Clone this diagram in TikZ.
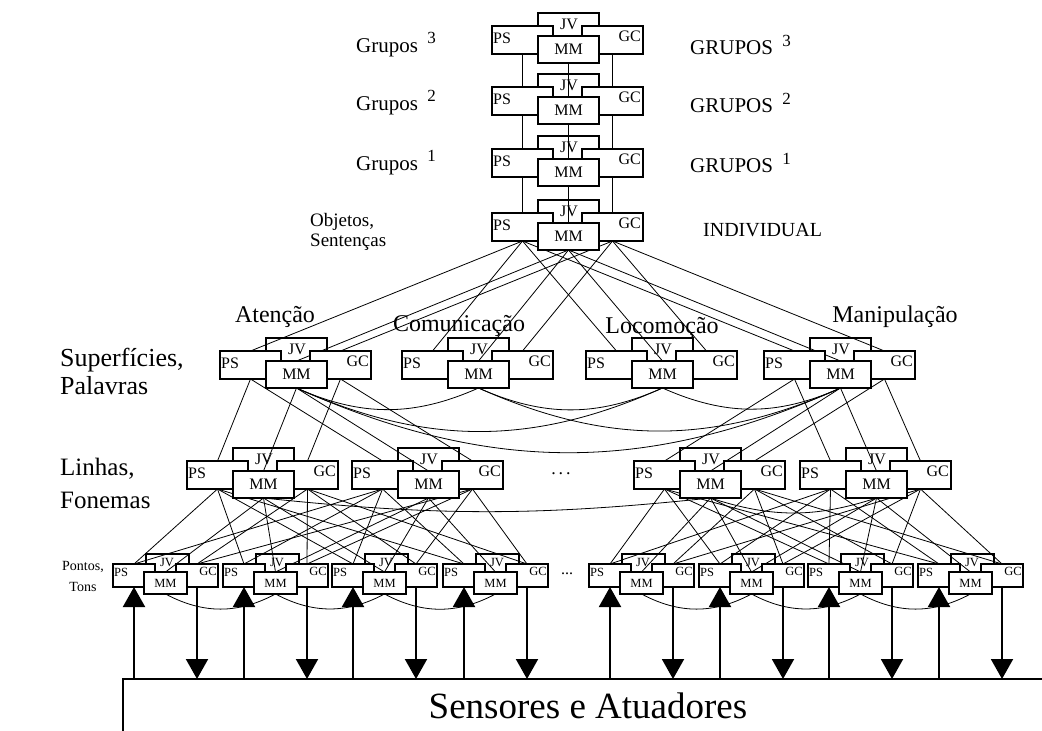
\documentclass[tikz,border=0pt]{standalone}
\usepackage{fontspec}
\setmainfont{Liberation Serif}
\usetikzlibrary{arrows.meta}
\pgfdeclarelayer{jvl}
\pgfdeclarelayer{wires}
\pgfsetlayers{jvl,wires,main}

\tikzset{
  box/.style={draw, fill=white, inner sep=0pt, outer sep=0pt, anchor=north west},
  bigbox/.style={box, line width=2pt},
  smallbox/.style={box, line width=1.6pt},
  bigt/.style={font=\fontsize{16}{16}\selectfont, inner sep=0pt},
  smallt/.style={font=\fontsize{12.5}{12.5}\selectfont, inner sep=0pt},
  wire/.style={line width=0.8pt},
  arr/.style={line width=2pt, -{Triangle[width=22pt,length=20pt]}},
  lab/.style={inner sep=0pt, align=left},
  grp/.style={lab, anchor=west, font=\fontsize{21}{21}\selectfont},
  task/.style={lab, font=\fontsize{24}{24}\selectfont},
}

% superscript level index
\newcommand\lvl[1]{\hspace{4pt}\raisebox{.42em}{\fontsize{17}{17}\selectfont #1}}

% large module: name, centre x, top y
\newcommand\bigmod[3]{%
  \begin{pgfonlayer}{jvl}
    \node[bigbox, minimum width=61, minimum height=26] (#1-jv) at (#2-30,#3) {};
    \node[bigt] (#1-jvt) at (#2+1,#3+11) {JV};
  \end{pgfonlayer}
  \node[bigbox, minimum width=61, minimum height=28] (#1-ps) at (#2-76,#3+13) {};
  \node[bigbox, minimum width=61, minimum height=28] (#1-gc) at (#2+14,#3+13) {};
  \node[bigbox, minimum width=61, minimum height=27] (#1-mm) at (#2-30,#3+23) {};
  \node[bigt, anchor=west] (#1-pst) at (#2-75,#3+25) {PS};
  \node[bigt, anchor=east] (#1-gct) at (#2+73,#3+23) {GC};
  \node[bigt] (#1-mmt) at (#2+0.5,#3+36) {MM};
}

% small module: name, centre x, top y
\newcommand\smallmod[3]{%
  \begin{pgfonlayer}{jvl}
    \node[smallbox, minimum width=43, minimum height=20] (#1-jv) at (#2-20,#3) {};
    \node[smallt] (#1-jvt) at (#2+1,#3+8.5) {JV};
  \end{pgfonlayer}
  \node[smallbox, minimum width=42, minimum height=23] (#1-ps) at (#2-53,#3+10) {};
  \node[smallbox, minimum width=42, minimum height=23] (#1-gc) at (#2+10,#3+10) {};
  \node[smallbox, minimum width=43, minimum height=22] (#1-mm) at (#2-22,#3+18) {};
  \node[smallt, anchor=west] (#1-pst) at (#2-52,#3+18) {PS};
  \node[smallt, anchor=east] (#1-gct) at (#2+51,#3+17) {GC};
  \node[smallt] (#1-mmt) at (#2-0.5,#3+29) {MM};
}

\begin{document}
\begin{tikzpicture}[x=1pt,y=-1pt]
\useasboundingbox (0,0) rectangle (1042,731);

% group stack
\bigmod{g3}{568}{13}
\bigmod{g2}{568}{74}
\bigmod{g1}{568}{136}
\bigmod{ob}{568}{200}

% behaviours
\bigmod{at}{296}{338}
\bigmod{co}{478}{338}
\bigmod{lo}{662}{338}
\bigmod{ma}{840}{338}

% lines / phonemes
\bigmod{la}{263}{448}
\bigmod{lb}{428}{448}
\bigmod{lc}{710}{448}
\bigmod{ld}{876}{448}

% points / tones
\smallmod{pa}{166}{554}
\smallmod{pb}{276}{554}
\smallmod{pc}{385}{554}
\smallmod{pd}{496}{554}
\smallmod{pe}{642}{554}
\smallmod{pf}{752}{554}
\smallmod{pg}{861}{554}
\smallmod{ph}{971}{554}

\begin{pgfonlayer}{wires}
  \foreach \a/\b in {g3/g2,g2/g1,g1/ob}
    \foreach \p in {ps,mm,gc}
      \draw[wire] (\a-\p.south) -- (\b-\p.north);
  \foreach \m in {at,co,lo,ma}
    \foreach \p in {ps,mm,gc}
      \draw[wire] (ob-\p.south) -- (\m-\p.north);
  \foreach \a/\b in {at/la,at/lb,ma/lc,ma/ld}
    \foreach \p in {ps,mm,gc}
      \draw[wire] (\a-\p.south) -- (\b-\p.north);
  \foreach \a/\b in {at/co,at/lo,at/ma,co/lo,co/ma,lo/ma}
    \draw[wire] (\a-mm.south) to[out=-24,in=204] (\b-mm.south);
  % phoneme level to point level
  \foreach \a in {la,lb}
    \foreach \b in {pa,pb,pc,pd}
      \foreach \p in {ps,gc}
        \draw[wire] (\a-\p.south) -- (\b-\p.north);
  \foreach \a in {lc,ld}
    \foreach \b in {pe,pf,pg,ph}
      \foreach \p in {ps,gc}
        \draw[wire] (\a-\p.south) -- (\b-\p.north);
  \foreach \a/\b in {la/pa,la/pb,la/pc,lb/pb,lb/pc,lb/pd,
                     lc/pe,lc/pf,lc/pg,ld/pf,ld/pg,ld/ph}
    \draw[wire] (\a-mm.south) -- (\b-mm.north);
  \draw[wire] (la-mm.south) to[out=-6,in=186] (lc-mm.south);
  \draw[wire] (lc-mm.south) to[out=-18,in=198] (ld-mm.south);
  \foreach \a/\b in {pa/pb,pb/pc,pc/pd,pe/pf,pf/pg,pg/ph}
    \draw[wire] (\a-mm.south) to[out=-28,in=208] (\b-mm.south);
\end{pgfonlayer}

% sensors and actuators
\coordinate (floor) at (0,679);
\draw[line width=2pt] (1042,679) -- (123,679) -- (123,731);
\node[font=\fontsize{37}{37}\selectfont, inner sep=0pt] (sens) at (588,706) {Sensores e Atuadores};
\foreach \m in {pa,pb,pc,pd,pe,pf,pg,ph} {
  \draw[arr] (\m-ps.south |- floor) -- (\m-ps.south);
  \draw[arr] (\m-gc.south) -- (\m-gc.south |- floor);
}

% level names
\node[grp] (l3) at (356,45) {Grupos \lvl{3}};
\node[grp] (l2) at (356,103) {Grupos \lvl{2}};
\node[grp] (l1) at (356,163) {Grupos \lvl{1}};
\node[grp] (r3) at (690,45) {GRUPOS \lvl{3}};
\node[grp] (r2) at (690,103) {GRUPOS \lvl{2}};
\node[grp] (r1) at (690,163) {GRUPOS \lvl{1}};
\node[lab, anchor=west, font=\fontsize{19}{20}\selectfont] (obj) at (310,232) {Objetos,\\Sentenças};
\node[lab, anchor=west, font=\fontsize{20}{20}\selectfont] (ind) at (703,230) {INDIVIDUAL};

\node[task] (atl) at (275,317) {Atenção};
\node[task] (col) at (459,326) {Comunicação};
\node[task] (lol) at (662,328) {Locomoção};
\node[task] (mal) at (895,317) {Manipulação};

\node[lab, anchor=west, font=\fontsize{26}{28}\selectfont] (sup) at (60,371) {Superfícies,\\Palavras};
\node[lab, anchor=west, font=\fontsize{25}{33}\selectfont] (lin) at (60,483) {Linhas,\\Fonemas};
\node[lab, align=center, font=\fontsize{14}{21}\selectfont] (pon) at (83,576) {Pontos,\\Tons};

\node[lab, font=\fontsize{18}{18}\selectfont] (dots3) at (561,474) {.\hspace{3pt}.\hspace{3pt}.};
\node[lab, font=\fontsize{16}{16}\selectfont] (dots4) at (567,574) {...};
\end{tikzpicture}
\end{document}
